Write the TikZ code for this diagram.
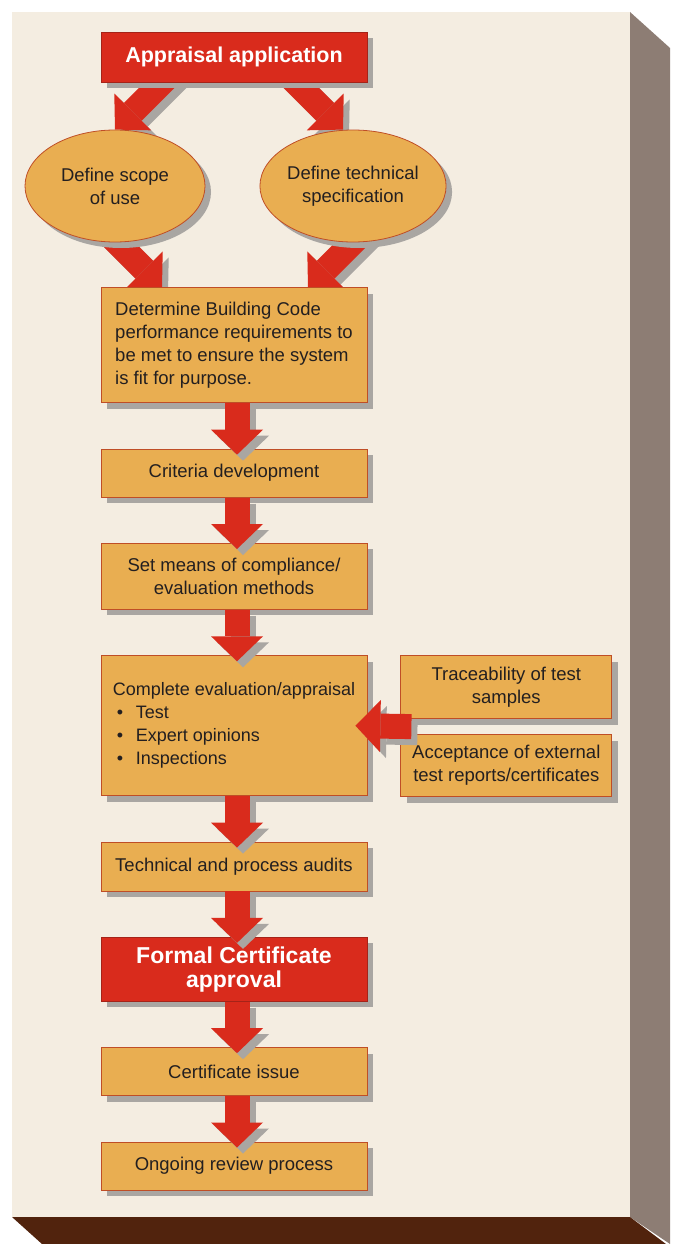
\documentclass[tikz,border=0pt]{standalone}
\usepackage{fontspec}
\setmainfont{Liberation Sans}
\usetikzlibrary{positioning, shapes.geometric, shadows, arrows.meta, calc}

\definecolor{pagefront}{HTML}{F4EDE1}
\definecolor{pageside}{HTML}{8D7D74}
\definecolor{pagefoot}{HTML}{51230D}
\definecolor{stepfill}{HTML}{E9AE51}
\definecolor{stepline}{HTML}{BF4E26}
\definecolor{keyred}{HTML}{D92B1C}
\definecolor{keyline}{HTML}{A52318}
\definecolor{shade}{HTML}{A9A6A2}
\definecolor{ink}{HTML}{231F20}

\pgfdeclarelayer{back}
\pgfdeclarelayer{links}
\pgfsetlayers{back,links,main}

\tikzset{
  stage/.style={rectangle, draw=stepline, fill=stepfill, line width=0.8pt,
    minimum width=266pt, inner sep=4pt, text=ink, align=center,
    font=\fontsize{18.5}{23}\selectfont,
    drop shadow={shadow xshift=6pt, shadow yshift=-6pt, fill=shade, opacity=1}},
  milestone/.style={stage, draw=keyline, fill=keyred, text=white},
  option/.style={stage, ellipse, minimum width=180pt, minimum height=112pt, inner sep=0pt},
  flow/.style={draw=keyred, line width=25pt,
    -{Triangle[width=52pt, length=25pt, line width=0pt]}},
  flowshadow/.style={flow, draw=shade, transform canvas={shift={(6pt,-6pt)}}},
}

\begin{document}
\begin{tikzpicture}[x=1pt, y=-1pt, node distance=45.5pt]
  \useasboundingbox (0,0) rectangle (676,1244);

  % the raised sheet behind the chart
  \begin{pgfonlayer}{back}
    \fill[white] (0,0) rectangle (676,1244);
    \fill[pagefront] (12,12) rectangle (630,1217);
    \fill[pageside] (630,12) -- (670,48) -- (670,1244) -- (630,1217) -- cycle;
    \fill[pagefoot] (12,1217) -- (630,1217) -- (666,1244) -- (42,1244) -- cycle;
  \end{pgfonlayer}

  \node[milestone, minimum height=50pt, font=\bfseries\fontsize{21.5}{24}\selectfont] (app) at (234,57) {Appraisal application};
  \node[option] (scope) at (115,186) {Define scope\\of use};
  \node[option] (tech) at (353,186) {Define technical\\specification};

  \node[stage, minimum height=115pt, align=left] (req) [below=205pt of app]
    {Determine Building Code\\performance requirements to\\be met to ensure the system\\is fit for purpose.};
  \node[stage, minimum height=48pt] (crit) [below=of req] {Criteria development};
  \node[stage, minimum height=66pt] (means) [below=of crit] {Set means of compliance/\\evaluation methods};
  \node[stage, minimum height=140pt, align=left, font=\fontsize{18}{23}\selectfont] (eval) [below=of means]
    {Complete evaluation/appraisal\\
     \makebox[23pt][l]{\hspace{4pt}\textbullet}Test\\
     \makebox[23pt][l]{\hspace{4pt}\textbullet}Expert opinions\\
     \makebox[23pt][l]{\hspace{4pt}\textbullet}Inspections};
  \node[stage, minimum height=49pt] (audit) [below=of eval] {Technical and process audits};
  \node[milestone, minimum height=64pt, font=\bfseries\fontsize{23}{23.5}\selectfont] (formal) [below=of audit]
    {Formal Certificate\\approval};
  \node[stage, minimum height=48pt] (issue) [below=of formal] {Certificate issue};
  \node[stage, minimum height=48pt] (review) [below=of issue] {Ongoing review process};

  % inputs feeding the evaluation
  \node[stage, anchor=north west, minimum width=211pt, minimum height=63pt] (trace)
    at ([xshift=33pt]eval.north east) {Traceability of test\\samples};
  \node[stage, minimum width=211pt, minimum height=62pt] (accept) [below=15pt of trace]
    {Acceptance of external\\test reports/certificates};

  % slanted arrows run under the shapes
  \begin{pgfonlayer}{links}
    \coordinate (t2) at ([xshift=-10pt]tech.north);
    \coordinate (t3) at ([xshift=-72pt]req.north);
    \coordinate (t4) at ([xshift=74pt]req.north);
    \coordinate (s1) at ($(scope.north)+(60pt,60pt)$);
    \coordinate (s2) at ($(t2)+(-60pt,60pt)$);
    \coordinate (s3) at ($(t3)+(-60pt,60pt)$);
    \coordinate (s4) at ($(t4)+(60pt,60pt)$);
    \foreach \a/\b in {s1/scope.north, s2/t2, s3/t3, s4/t4} {
      \draw[flowshadow] (\a) -- (\b);
      \draw[flow] (\a) -- (\b);
    }
  \end{pgfonlayer}

  % straight arrows down the column
  \foreach \a/\b in {req/crit, crit/means, means/eval, eval/audit, audit/formal, formal/issue, issue/review} {
    \draw[flowshadow] ([xshift=3pt]\a.south) -- ([xshift=3pt, yshift=-6pt]\b.north);
    \draw[flow] ([xshift=3pt]\a.south) -- ([xshift=3pt, yshift=-6pt]\b.north);
  }

  \coordinate (join) at ($(trace.south west)!.5!(accept.north west)+(11pt,0pt)$);
  \draw[flowshadow] (join) -- ([xshift=-12pt]eval.east);
  \draw[flow] (join) -- ([xshift=-12pt]eval.east);
\end{tikzpicture}
\end{document}
